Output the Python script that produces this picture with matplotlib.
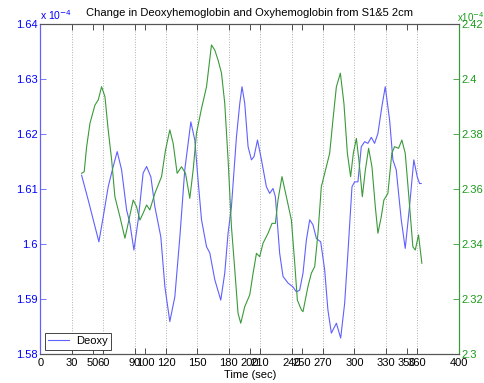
import matplotlib
matplotlib.use('Agg')
import matplotlib.pyplot as plt
import numpy as np

plt.rcParams['font.family'] = ['Liberation Sans', 'DejaVu Sans']

# Deoxy (left axis, x1e-4)
deoxy_t = [39.3, 45.6, 55.8, 60.0, 64.7, 69.5, 73.3, 77.5, 82.3, 85.4, 89.3, 93.4, 98.1, 101.4,
           105.5, 109.3, 115.0, 118.9, 123.6, 128.4, 133.2, 137.9, 143.7, 147.5, 150.6, 153.9,
           158.7, 161.8, 166.6, 172.3, 176.1, 179.3, 182.5, 187.3, 190.5, 192.6, 195.2, 198.4,
           201.6, 204.1, 207.4, 211.2, 215.9, 219.1, 222.2, 224.5, 228.6, 231.8, 236.6, 241.3,
           244.6, 247.7, 250.9, 254.1, 257.3, 260.4, 263.7, 267.8, 271.6, 274.7, 278.0, 282.8,
           286.9, 290.7, 293.8, 297.7, 300.2, 303.4, 306.6, 309.8, 312.9, 316.2, 319.3, 322.5,
           326.3, 329.5, 333.7, 336.8, 340.0, 344.8, 348.6, 352.7, 356.8, 360.1, 362.3, 363.9]
deoxy_v = [1.6125, 1.6080, 1.6004, 1.6050, 1.6104, 1.6141, 1.6168, 1.6135, 1.6062, 1.6038,
           1.5989, 1.6044, 1.6129, 1.6141, 1.6122, 1.6068, 1.6013, 1.5922, 1.5859, 1.5904,
           1.6013, 1.6135, 1.6222, 1.6189, 1.6116, 1.6044, 1.5995, 1.5984, 1.5935, 1.5898,
           1.5947, 1.6020, 1.6068, 1.6195, 1.6256, 1.6286, 1.6256, 1.6177, 1.6153, 1.6159,
           1.6189, 1.6153, 1.6104, 1.6092, 1.6101, 1.6086, 1.5983, 1.5941, 1.5929, 1.5922,
           1.5913, 1.5916, 1.5947, 1.6007, 1.6044, 1.6035, 1.6010, 1.6004, 1.5953, 1.5880,
           1.5838, 1.5856, 1.5829, 1.5892, 1.5983, 1.6104, 1.6113, 1.6113, 1.6177, 1.6186,
           1.6183, 1.6194, 1.6183, 1.6201, 1.6250, 1.6286, 1.6225, 1.6153, 1.6135, 1.6044,
           1.5992, 1.6068, 1.6153, 1.6122, 1.6110, 1.6110]

# Oxy (right axis, x1e-4)
oxy_t = [39.3, 41.8, 44.1, 47.3, 52.0, 55.2, 58.4, 61.6, 64.7, 68.0, 71.1, 75.9, 80.7, 83.8,
         88.6, 91.8, 95.0, 98.1, 101.4, 104.5, 109.3, 115.7, 119.5, 123.6, 126.8, 130.6, 134.8,
         138.6, 142.7, 145.9, 149.1, 153.9, 158.7, 163.4, 166.6, 169.7, 173.0, 176.1, 179.3,
         182.5, 185.7, 188.8, 191.4, 195.2, 200.0, 203.2, 206.4, 209.5, 212.7, 217.5, 221.3,
         224.5, 227.0, 230.8, 235.0, 239.8, 243.0, 245.5, 249.4, 250.9, 255.6, 258.9, 262.1,
         265.2, 268.4, 273.2, 276.4, 279.5, 282.8, 286.6, 290.0, 293.3, 296.4, 299.0, 301.9,
         304.3, 307.6, 310.5, 313.6, 316.8, 320.0, 322.5, 325.7, 328.2, 332.0, 335.8, 338.4,
         342.2, 345.4, 348.6, 351.8, 355.9, 358.2, 361.3, 364.5]
oxy_v = [2.3657, 2.3663, 2.3754, 2.3839, 2.3905, 2.3924, 2.3972, 2.3936, 2.3815, 2.3706,
         2.3572, 2.3499, 2.3421, 2.3475, 2.3560, 2.3536, 2.3487, 2.3512, 2.3542, 2.3524,
         2.3584, 2.3645, 2.3742, 2.3815, 2.3766, 2.3657, 2.3681, 2.3657, 2.3566, 2.3669,
         2.3803, 2.3893, 2.3972, 2.4124, 2.4105, 2.4069, 2.4021, 2.3912, 2.3706, 2.3463,
         2.3306, 2.3148, 2.3112, 2.3172, 2.3215, 2.3294, 2.3366, 2.3354, 2.3403, 2.3439,
         2.3475, 2.3475, 2.3560, 2.3645, 2.3572, 2.3487, 2.3330, 2.3196, 2.3160, 2.3154,
         2.3245, 2.3294, 2.3318, 2.3439, 2.3608, 2.3681, 2.3730, 2.3851, 2.3972, 2.4021,
         2.3912, 2.3730, 2.3645, 2.3730, 2.3784, 2.3706, 2.3572, 2.3669, 2.3748, 2.3681,
         2.3536, 2.3439, 2.3499, 2.3560, 2.3584, 2.3730, 2.3754, 2.3748, 2.3778, 2.3730,
         2.3584, 2.3390, 2.3378, 2.3433, 2.3330]

x_ticks = [0, 30, 50, 60, 90, 100, 120, 150, 180, 200, 210, 240, 250, 270, 300, 330, 350, 360, 400]
grid_x = [30, 60, 90, 120, 150, 180, 210, 240, 270, 300, 330, 360]
left_ticks = [1.58, 1.59, 1.60, 1.61, 1.62, 1.63, 1.64]
right_ticks = [2.30, 2.32, 2.34, 2.36, 2.38, 2.40, 2.42]

blue = '#6060ff'
green = '#3a9a3a'
fs = 8

fig = plt.figure(figsize=(4.85, 3.83), dpi=100)
ax = fig.add_axes([0.0835, 0.0757, 0.8629, 0.8616])
ax2 = ax.twinx()

for gx in grid_x:
    ax.axvline(gx, color='#b0b0b0', linestyle=':', linewidth=0.7, zorder=0)

ax.plot(deoxy_t, deoxy_v, color=blue, linewidth=0.8, label='Deoxy')
ax2.plot(oxy_t, oxy_v, color=green, linewidth=0.8)

ax.set_xlim(0, 400)
ax.set_ylim(1.58, 1.64)
ax2.set_ylim(2.30, 2.42)

ax.set_xticks(x_ticks)
ax.set_xticklabels([str(v) for v in x_ticks], fontsize=fs)
ax.set_yticks(left_ticks)
ax.set_yticklabels(['%g' % v for v in left_ticks], fontsize=fs, color='#0000ff')
ax2.set_yticks(right_ticks)
ax2.set_yticklabels(['%g' % v for v in right_ticks], fontsize=fs, color='#1a9a1a')

ax.tick_params(axis='x', direction='in', top=True, length=4, width=0.6, pad=3, colors='#333333',
               labelcolor='black')
ax.tick_params(axis='y', direction='in', length=4, width=0.6, colors=blue, labelcolor='#0000ff', pad=2)
ax2.tick_params(axis='y', direction='in', length=4, width=0.6, colors=green, labelcolor='#1a9a1a', pad=2)

for a in (ax, ax2):
    a.spines['top'].set_color('#555555')
    a.spines['bottom'].set_color('#555555')
    a.spines['left'].set_color(blue)
    a.spines['right'].set_color(green)
    for s in a.spines.values():
        s.set_linewidth(0.8)

ax.set_xlabel('Time (sec)', fontsize=fs, labelpad=1)
ax.set_title('Change in Deoxyhemoglobin and Oxyhemoglobin from S1&5 2cm', fontsize=fs, pad=6)

ax.text(0.0, 1.005, r'x 10$^{-4}$', transform=ax.transAxes, color='#0000ff', fontsize=7.5,
        ha='left', va='bottom')
ax2.text(0.995, 1.0, r'x10$^{-4}$', transform=ax2.transAxes, color='#1a9a1a', fontsize=7,
         ha='left', va='bottom')

leg = ax.legend(loc='lower left', fontsize=fs, fancybox=False, edgecolor='#444444',
                framealpha=1, handlelength=1.9, handletextpad=0.6, borderpad=0.3,
                borderaxespad=0.4)
leg.get_frame().set_linewidth(0.7)

fig.savefig('out.png', dpi=100)
